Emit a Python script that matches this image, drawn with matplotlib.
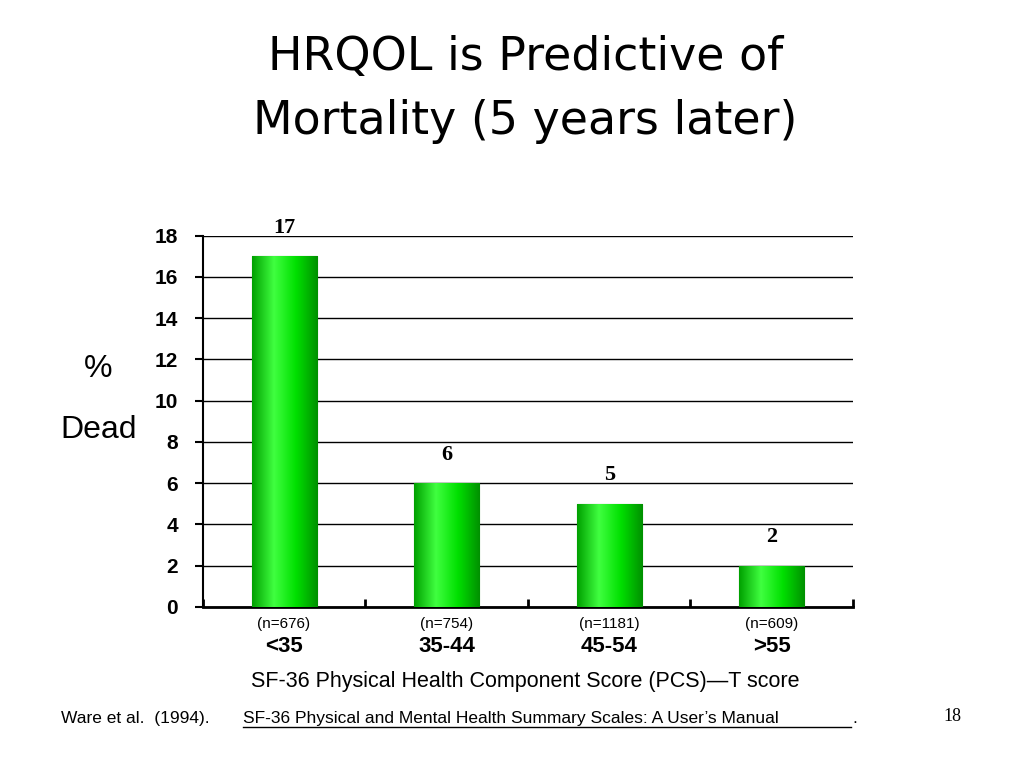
import matplotlib
matplotlib.use("Agg")
import matplotlib.pyplot as plt
import numpy as np
from matplotlib.colors import LinearSegmentedColormap

plt.rcParams["font.family"] = "Liberation Sans"

categories = ["<35", "35-44", "45-54", ">55"]
ns = ["(n=676)", "(n=754)", "(n=1181)", "(n=609)"]
values = [17, 6, 5, 2]
yticks = [0, 2, 4, 6, 8, 10, 12, 14, 16, 18]

fig = plt.figure(figsize=(10.24, 7.68), dpi=100)
ax = fig.add_axes([0.198, 0.210, 0.635, 0.483])
x = np.arange(len(values))
bars = ax.bar(x, values, width=0.4, color="#00dd00", edgecolor="#007700", linewidth=0.8, zorder=3)
cmap = LinearSegmentedColormap.from_list("g", ["#00a000", "#40ff40", "#00e000", "#009000"])
grad = np.linspace(0, 1, 256).reshape(1, -1)
for b in bars:
    im = ax.imshow(grad, cmap=cmap, aspect="auto", zorder=3.5,
                   extent=[b.get_x(), b.get_x() + b.get_width(), 0, b.get_height()])
    im.set_clip_path(b)
for xi, v in zip(x, values):
    ax.text(xi, v + 0.9, str(v), ha="center", va="bottom", fontsize=16,
            fontweight="bold", family="Liberation Serif", zorder=5, clip_on=False)
ax.set_xlim(-0.5, 3.5)
ax.set_ylim(0, 18)
ax.set_yticks(yticks)
ax.set_yticklabels([str(t) for t in yticks], fontsize=15, fontweight="bold")
ax.yaxis.grid(True, color="black", linewidth=1, zorder=0)
ax.set_axisbelow(True)
for s in ["top", "right"]:
    ax.spines[s].set_visible(False)
ax.spines["left"].set_linewidth(1.5)
ax.spines["bottom"].set_linewidth(2)
ax.set_xticks([-0.5, 0.5, 1.5, 2.5, 3.5])
ax.set_xticklabels([])
ax.tick_params(axis="x", length=6, width=2, direction="in")
ax.tick_params(axis="y", length=6, width=1.5, direction="out", pad=12)
for xi, n, c in zip(x, ns, categories):
    ax.text(xi, -0.5, n, ha="center", va="top", fontsize=11)
    ax.text(xi, -1.4, c, ha="center", va="top", fontsize=16, fontweight="bold")
fig.text(0.513, 0.112, "SF-36 Physical Health Component Score (PCS)\u2014T score",
         ha="center", va="center", fontsize=15.5, color="black")
fig.text(0.096, 0.52, "%", ha="center", va="center", fontsize=23)
fig.text(0.096, 0.44, "Dead", ha="center", va="center", fontsize=23)
fig.text(0.513, 0.925, "HRQOL is Predictive of", ha="center", va="center", fontsize=33,
         family="DejaVu Sans")
fig.text(0.513, 0.842, "Mortality (5 years later)", ha="center", va="center", fontsize=33,
         family="DejaVu Sans")
fig.text(0.06, 0.065, "Ware et al.  (1994).", ha="left", va="center", fontsize=12.5)
fig.text(0.2375, 0.065, "SF-36 Physical and Mental Health Summary Scales: A User\u2019s Manual",
         ha="left", va="center", fontsize=12.5)
fig.text(0.832, 0.065, ".", ha="left", va="center", fontsize=12.5)
fig.text(0.93, 0.067, "18", ha="center", va="center", fontsize=13, family="Liberation Serif")
fig.add_artist(plt.Line2D([0.2375, 0.831], [0.054, 0.054], color="black", linewidth=1))
fig.savefig("out.png", dpi=100)
